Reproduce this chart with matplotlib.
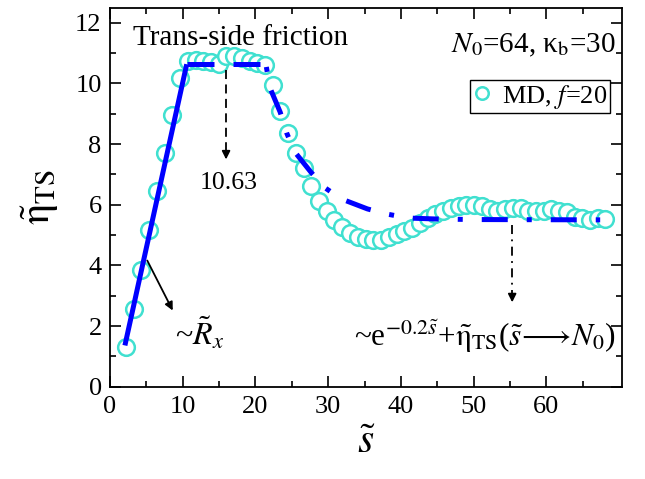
import matplotlib
matplotlib.use('Agg')
import matplotlib.pyplot as plt
from matplotlib.lines import Line2D

plt.rcParams['font.family'] = ['Liberation Serif', 'DejaVu Serif']
plt.rcParams['mathtext.fontset'] = 'stix'

# MD data
s_md = [2.2, 3.3, 4.3, 5.4, 6.5, 7.6, 8.5, 9.6, 10.7, 11.8, 12.8, 13.9, 15.0, 16.0,
        17.1, 18.2, 19.3, 20.2, 21.3, 22.4, 23.4, 24.5, 25.6, 26.7, 27.7, 28.8,
        29.9, 30.8, 31.9, 33.0, 34.1, 35.2, 36.2, 37.3, 38.4, 39.5, 40.4, 41.5,
        42.6, 43.7, 44.7, 45.8, 46.9, 48.0, 49.0, 50.1, 51.2, 52.3, 53.2, 54.3,
        55.4, 56.5, 57.5, 58.6, 59.7, 60.7, 61.8, 62.9, 64.0, 64.9, 66.0, 67.1, 68.1]
eta_md = [1.30, 2.56, 3.85, 5.18, 6.45, 7.71, 8.94, 10.17, 10.75, 10.78, 10.75, 10.70,
          10.65, 10.90, 10.90, 10.85, 10.72, 10.67, 10.60, 9.95, 9.10, 8.37, 7.72,
          7.20, 6.61, 6.11, 5.78, 5.51, 5.25, 5.08, 4.95, 4.88, 4.82, 4.82, 4.92,
          5.02, 5.12, 5.22, 5.40, 5.55, 5.68, 5.78, 5.88, 5.95, 5.98, 6.00, 5.95,
          5.85, 5.78, 5.85, 5.88, 5.88, 5.78, 5.78, 5.78, 5.85, 5.80, 5.75, 5.60,
          5.55, 5.50, 5.55, 5.52]

# linear rise ~R_x
lin_s = [2.05, 10.55]
lin_eta = [1.36, 10.63]
# plateau
flat_s = [10.55, 20.8]
flat_eta = [10.63, 10.63]
# exponential decay fit
dec_s = [21.5, 22.0, 23.4, 24.3, 25.4, 27.6, 29.6, 31.8, 35.4, 38.1, 41.0, 44.6, 50.0, 67.4]
dec_eta = [10.54, 9.85, 9.05, 8.36, 7.74, 7.08, 6.55, 6.19, 5.86, 5.69, 5.56, 5.53, 5.51, 5.50]

x_ticks = [0, 10, 20, 30, 40, 50, 60]
y_ticks = [0, 2, 4, 6, 8, 10, 12]

fig = plt.figure(figsize=(6.45, 4.79), dpi=100)
ax = fig.add_axes([110/645, 1-386.7/479, 512/645, 379.2/479])

turq = '#40E0D0'
ax.plot(s_md, eta_md, 'o', ms=12, mfc='white', mec=turq, mew=1.8, zorder=2)

blue = '#0000FF'
lw = 3.6
ax.plot(lin_s, lin_eta, '-', color=blue, lw=lw, solid_capstyle='butt', zorder=3)
ax.plot(flat_s, flat_eta, color=blue, lw=lw, dashes=(5.4, 3.8),
        dash_capstyle='butt', zorder=3)
ax.plot(dec_s, dec_eta, color=blue, lw=lw, dashes=(1.0, 3.8, 5.2, 3.8),
        dash_capstyle='butt', zorder=3)

ax.set_xlim(0, 70.4)
ax.set_ylim(0, 12.5)
ax.set_xticks(x_ticks)
ax.set_yticks(y_ticks)
ax.set_xticks([5, 15, 25, 35, 45, 55, 65], minor=True)
ax.set_yticks([1, 3, 5, 7, 9, 11], minor=True)
ax.tick_params(which='both', direction='in', top=True, right=True, width=1.2,
               labelsize=19)
ax.tick_params(which='major', length=8)
ax.tick_params(which='minor', length=4)
ax.tick_params(axis='x', pad=7)
ax.tick_params(axis='y', pad=6)
for sp in ax.spines.values():
    sp.set_linewidth(1.3)

ax.set_xlabel(r'$\tilde{s}$', fontsize=30, labelpad=4)
ax.set_ylabel(r'$\tilde{\mathrm{\eta}}_{\mathrm{TS}}$', fontsize=30, labelpad=10)

# texts
ax.text(18.0, 11.5, 'Trans-side friction', fontsize=21, ha='center', va='center')
ax.text(69.5, 11.25, r'$N_0$=64, κ$_\mathrm{b}$=30', fontsize=21, ha='right', va='center')

# dashed arrow to 10.63
ax.plot([15.96, 15.96], [10.45, 7.55], color='black', lw=1.3, dashes=(5, 3))
ax.annotate('', xy=(15.96, 7.4), xytext=(15.96, 7.8),
            arrowprops=dict(arrowstyle='-|>', color='black', lw=1.3, mutation_scale=12))
ax.text(16.3, 6.7, '10.63', fontsize=18.5, ha='center', va='center')

# arrow to ~R_x
ax.annotate('', xy=(8.8, 2.43), xytext=(4.95, 4.24),
            arrowprops=dict(arrowstyle='-|>', color='black', lw=1.3, mutation_scale=12))
ax.text(9.0, 1.75, r'~$\tilde{R}_x$', fontsize=23, ha='left', va='center')

# dash-dot arrow to the exp formula
ax.plot([55.3, 55.3], [5.32, 2.85], color='black', lw=1.3, dashes=(5, 3, 1, 3))
ax.annotate('', xy=(55.3, 2.69), xytext=(55.3, 3.05),
            arrowprops=dict(arrowstyle='-|>', color='black', lw=1.3, mutation_scale=12))
ax.text(33.6, 1.37, r'~e$^{-0.2\tilde{s}}$+$\tilde{\mathrm{\eta}}_{\mathrm{TS}}$($\tilde{s}\!\longrightarrow\! N_0$)',
        fontsize=22.5, ha='left', va='baseline')

handle = Line2D([], [], ls='none', marker='o', ms=9, mfc='white', mec=turq, mew=1.8)
leg = ax.legend([handle], [r'MD, $f$=20'], loc='upper right',
                bbox_to_anchor=((610-110)/512, 1-(80-7.5)/379.2),
                fontsize=19, frameon=True, fancybox=False, framealpha=1,
                edgecolor='black', handlelength=0.7, handletextpad=0.4,
                borderpad=0.1, borderaxespad=0)
leg.get_frame().set_linewidth(1.0)

fig.savefig('out.png', dpi=100)
